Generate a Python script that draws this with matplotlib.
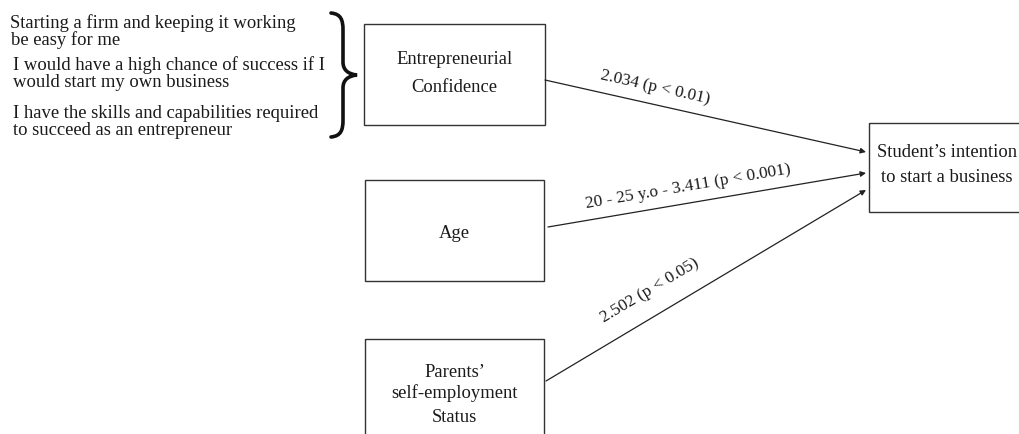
import numpy as np
import matplotlib.pyplot as plt
from matplotlib.patches import Rectangle, PathPatch
from matplotlib.path import Path

plt.rcParams['font.family'] = ['Liberation Serif', 'DejaVu Serif']

# items behind the confidence construct
items = ["Starting a firm and keeping it working",
         "be easy for me",
         "I would have a high chance of success if I",
         "would start my own business",
         "I have the skills and capabilities required",
         "to succeed as an entrepreneur"]
item_base = [28, 45, 70, 87, 118, 135]
item_x = [10, 11, 13, 13, 13, 13]

# predictors -> outcome
predictors = ["Entrepreneurial\nConfidence", "Age", "Parents\u2019\nself-employment\nStatus"]
coef = [2.034, 3.411, 2.502]
pval = ["0.01", "0.001", "0.05"]
prefix = ["", "20 - 25 y.o - ", ""]
outcome = "Student\u2019s intention\nto start a business"

# boxes (x0, y0, x1, y1) in pixels
boxes = [(364, 24, 545, 125), (365, 180, 544, 281), (365, 339, 544, 445)]
box_out = (869, 123, 1030, 212)
out_cx = 947
text_base = [[64, 92], [238], [377, 398, 422]]
out_base = [157, 182]

starts = [(545, 80), (548, 227), (546, 381)]
ends = [(866, 152), (866, 173), (866, 190)]
lab_pos = [(655, 87), (688, 187), (650, 291)]

fig = plt.figure(figsize=(10.2, 4.34), dpi=100)
ax = fig.add_axes([0, 0, 1, 1])
ax.set_xlim(0, 1020)
ax.set_ylim(434, 0)
ax.axis('off')

tc = '#1a1a1a'
fs = 13.4
fs_lab = 12.4

for t, b, x in zip(items, item_base, item_x):
    ax.text(x, b, t, fontsize=fs, color=tc, va='baseline', ha='left')

# curly brace
verts = [(331, 13),
         (341, 14), (343, 20), (343, 30),
         (343, 62),
         (343, 70), (348, 74), (357, 75),
         (348, 76), (343, 80), (343, 88),
         (343, 120),
         (343, 130), (341, 136), (331, 137)]
codes = [Path.MOVETO,
         Path.CURVE4, Path.CURVE4, Path.CURVE4,
         Path.LINETO,
         Path.CURVE4, Path.CURVE4, Path.CURVE4,
         Path.CURVE4, Path.CURVE4, Path.CURVE4,
         Path.LINETO,
         Path.CURVE4, Path.CURVE4, Path.CURVE4]
ax.add_patch(PathPatch(Path(verts, codes), fill=False, lw=2.6, color='#111111', capstyle='round'))

for (x0, y0, x1, y1), name, bases in zip(boxes, predictors, text_base):
    ax.add_patch(Rectangle((x0, y0), x1 - x0, y1 - y0, fill=False, ec='#333333', lw=1.0))
    for line, b in zip(name.split("\n"), bases):
        ax.text((x0 + x1) / 2, b, line, fontsize=fs, color=tc, ha='center', va='baseline')

x0, y0, x1, y1 = box_out
ax.add_patch(Rectangle((x0, y0), x1 - x0, y1 - y0, fill=False, ec='#333333', lw=1.0))
for line, b in zip(outcome.split("\n"), out_base):
    ax.text(out_cx, b, line, fontsize=fs, color=tc, ha='center', va='baseline')

for s, e, c, p, pre, lp in zip(starts, ends, coef, pval, prefix, lab_pos):
    ax.annotate("", xy=e, xytext=s,
                arrowprops=dict(arrowstyle='-|>', color='#222222', lw=0.9,
                                mutation_scale=8, shrinkA=0, shrinkB=0))
    ang = -np.degrees(np.arctan2(e[1] - s[1], e[0] - s[0]))
    ax.text(lp[0], lp[1], "%s%.3f (p < %s)" % (pre, c, p), fontsize=fs_lab, color=tc,
            rotation=ang, rotation_mode='anchor', ha='center', va='center')

plt.savefig('out.png', dpi=100)
